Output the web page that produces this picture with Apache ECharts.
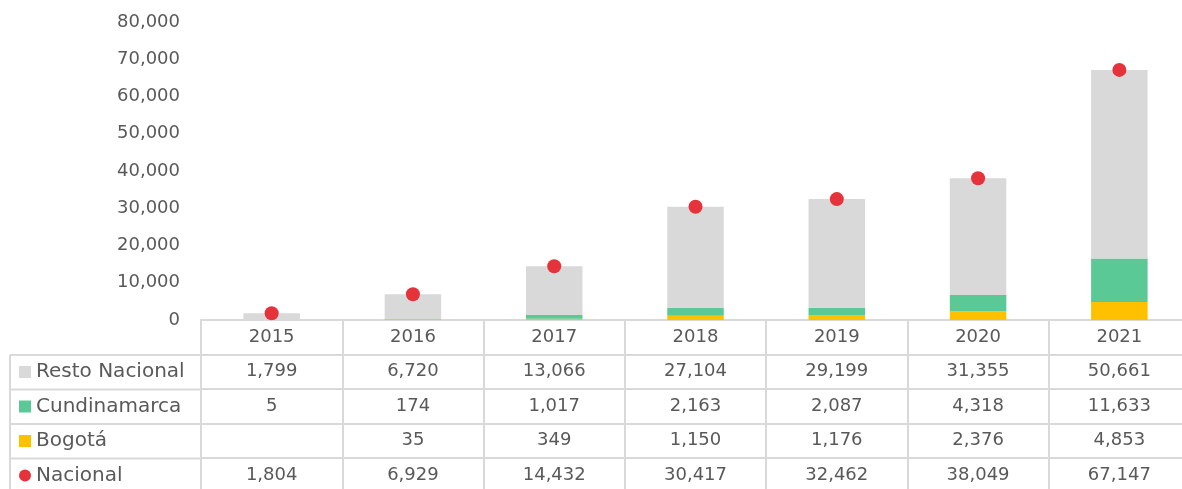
<!DOCTYPE html>
<html>
<head>
<meta charset="utf-8">
<script src="https://cdn.jsdelivr.net/npm/echarts@6/dist/echarts.min.js"></script>
<style>
  html, body { margin: 0; padding: 0; background: #fff; }
  #main { width: 1182px; height: 489px; }
</style>
</head>
<body>
<div id="main"></div>
<script>
// datos
var years = ['2015', '2016', '2017', '2018', '2019', '2020', '2021'];
var resto = [1799, 6720, 13066, 27104, 29199, 31355, 50661];
var cundinamarca = [5, 174, 1017, 2163, 2087, 4318, 11633];
var bogota = [null, 35, 349, 1150, 1176, 2376, 4853];
var nacional = [1804, 6929, 14432, 30417, 32462, 38049, 67147];
var yTicks = { min: 0, max: 80000, interval: 10000 };

var FONT = 'DejaVu Sans';
var TXT = '#595959';
var LINE = '#D9D9D9';
var ROW = 34.5;

function fmt(v) {
    return v == null ? '' : v.toLocaleString('en-US');
}

// filas de la tabla como ejes x extra
function rowAxis(values, k) {
    return {
        type: 'category',
        gridIndex: 0,
        position: 'bottom',
        offset: k * ROW,
        data: values.map(fmt),
        axisLine: { show: true, lineStyle: { color: LINE, width: 2 } },
        axisTick: { show: true, length: ROW, lineStyle: { color: LINE, width: 2 } },
        axisLabel: {
            color: TXT, fontFamily: FONT, fontSize: 18,
            margin: 17, verticalAlign: 'middle', interval: 0
        }
    };
}

var chart = echarts.init(document.getElementById('main'));

// lineas de la columna izquierda
var graphics = [];
[355, 389.5, 424, 458.5].forEach(function (y) {
    graphics.push({ type: 'line', shape: { x1: 10, y1: y, x2: 200, y2: y }, style: { stroke: LINE, lineWidth: 2 } });
});
graphics.push({ type: 'line', shape: { x1: 10, y1: 355, x2: 10, y2: 489 }, style: { stroke: LINE, lineWidth: 2 } });

var option = {
    backgroundColor: '#fff',
    animation: false,
    grid: { left: 201, top: 22, width: 989, height: 298, outerBoundsMode: 'none' },
    legend: {
        orient: 'vertical',
        left: 14,
        top: 357,
        height: 200,
        itemWidth: 12,
        itemHeight: 12,
        itemGap: 14.5,
        textStyle: { color: TXT, fontFamily: FONT, fontSize: 20, lineHeight: 20 },
        data: [
            { name: 'Resto Nacional', icon: 'rect' },
            { name: 'Cundinamarca', icon: 'rect' },
            { name: 'Bogotá', icon: 'rect' },
            { name: 'Nacional', icon: 'circle' }
        ]
    },
    xAxis: [
        rowAxis(years, 0),
        rowAxis(resto, 1),
        rowAxis(cundinamarca, 2),
        rowAxis(bogota, 3),
        rowAxis(nacional, 4)
    ],
    yAxis: {
        type: 'value',
        min: yTicks.min,
        max: yTicks.max,
        interval: yTicks.interval,
        axisLine: { show: false },
        axisTick: { show: false },
        splitLine: { show: false },
        axisLabel: {
            color: TXT, fontFamily: FONT, fontSize: 18, margin: 21,
            formatter: function (v) { return fmt(v); }
        }
    },
    series: [
        {
            name: 'Bogotá', type: 'bar', stack: 'total', xAxisIndex: 0,
            barWidth: '40%', data: bogota, itemStyle: { color: '#FFC000' }
        },
        {
            name: 'Cundinamarca', type: 'bar', stack: 'total', xAxisIndex: 0,
            barWidth: '40%', data: cundinamarca, itemStyle: { color: '#5BC995' }
        },
        {
            name: 'Resto Nacional', type: 'bar', stack: 'total', xAxisIndex: 0,
            barWidth: '40%', data: resto, itemStyle: { color: '#D9D9D9' }
        },
        {
            name: 'Nacional', type: 'scatter', xAxisIndex: 0, z: 5,
            symbolSize: 14, data: nacional, itemStyle: { color: '#E5323B', opacity: 1 }
        }
    ],
    graphic: graphics
};
chart.setOption(option);
</script>
</body>
</html>
